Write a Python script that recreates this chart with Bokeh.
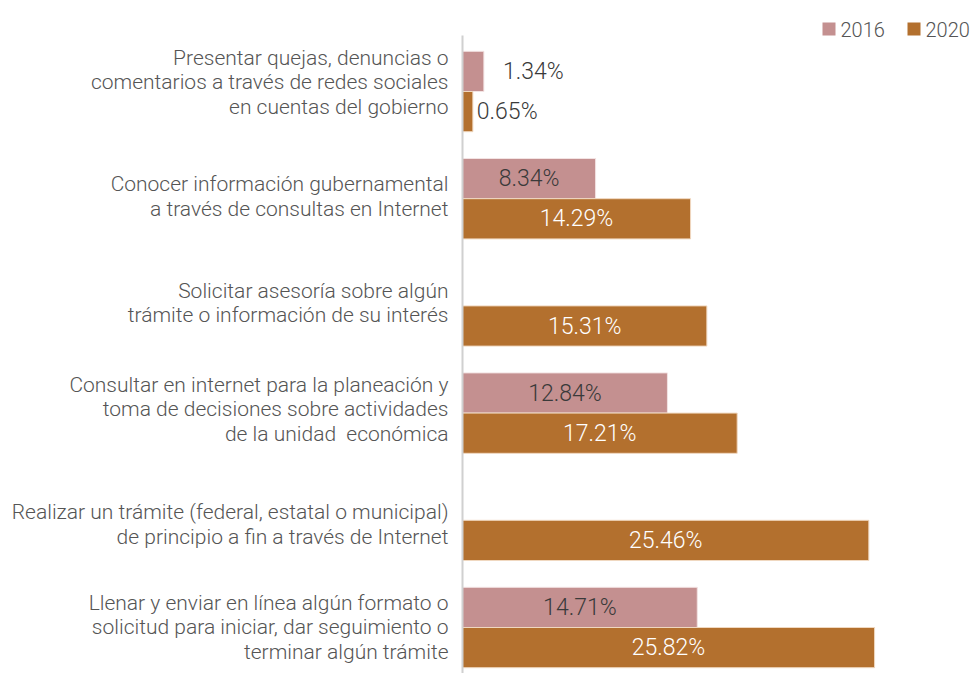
from bokeh.plotting import figure
from bokeh.models import ColumnDataSource, Range1d
from bokeh.core.properties import value
from bokeh.embed import file_html
from bokeh.resources import INLINE

categories = [
    "Presentar quejas, denuncias o\ncomentarios a través de redes sociales\nen cuentas del gobierno",
    "Conocer información gubernamental\na través de consultas en Internet",
    "Solicitar asesoría sobre algún\ntrámite o información de su interés",
    "Consultar en internet para la planeación y\ntoma de decisiones sobre actividades\nde la unidad \u00a0económica",
    "Realizar un trámite (federal, estatal o municipal)\nde principio a fin a través de Internet",
    "Llenar y enviar en línea algún formato o\nsolicitud para iniciar, dar seguimiento o\nterminar algún trámite",
]
values_2016 = [1.34, 8.34, None, 12.84, None, 14.71]
values_2020 = [0.65, 14.29, 15.31, 17.21, 25.46, 25.82]
series_names = ["2016", "2020"]

# layout-only nudges of the category labels (pixels, + = down)
LABEL_NUDGE_PX = [-9, -2, -3, -4, 4, 0]

C16 = "#c49090"
C20 = "#b3702e"
FONT = value("Roboto Light")
GRAY = "#555555"
DARK = "#3a3a3a"

n = len(categories)
pos = [n - 1 - i for i in range(n)]  # top to bottom
BH = 0.375

PX_PER_UNIT_X = 15.96
W, H = 976, 673
x0_px = 462
x_start = -x0_px / PX_PER_UNIT_X
x_end = (W - x0_px) / PX_PER_UNIT_X
PX_PER_UNIT_Y = 107.2
y_start = -(673 - 627) / PX_PER_UNIT_Y
y_end = (n - 1) + 91 / PX_PER_UNIT_Y

def px2x(px):
    return (px - x0_px) / PX_PER_UNIT_X

def px2y(py):
    return y_end - py / PX_PER_UNIT_Y

p = figure(width=W, height=H, output_backend="svg", toolbar_location=None,
           x_range=Range1d(x_start, x_end), y_range=Range1d(y_start, y_end),
           min_border=0, outline_line_color=None)
p.xaxis.visible = False
p.yaxis.visible = False
p.xgrid.visible = False
p.ygrid.visible = False
p.background_fill_color = "white"
p.border_fill_color = "white"

def bar_src(vals, offset, inside_color):
    ys, xs, lx, lt, la, lc = [], [], [], [], [], []
    for v, y in zip(vals, pos):
        if v is None:
            continue
        ys.append(y + offset)
        xs.append(v)
        lt.append(f"{v:.2f}%")
        if v < 3:
            lx.append(v + (1.2 if offset > 0 else 0.25))
            la.append("left")
            lc.append(DARK)
        else:
            lx.append(v / 2)
            la.append("center")
            lc.append(inside_color)
    return ColumnDataSource(dict(y=ys, right=xs, lx=lx, lt=lt, la=la, lc=lc))

s16 = bar_src(values_2016, BH / 2, DARK)
s20 = bar_src(values_2020, -BH / 2, "white")

p.hbar(y="y", right="right", left=0, height=BH, source=s16,
       fill_color=C16, line_color="#f3e3e3", line_width=1)
p.hbar(y="y", right="right", left=0, height=BH, source=s20,
       fill_color=C20, line_color="#f0d8c0", line_width=1)

for s in (s16, s20):
    p.text(x="lx", y="y", text="lt", source=s, text_align="la",
           text_baseline="middle", text_color="lc", text_font=FONT,
           text_font_size="23px")

# axis line
p.segment(x0=[0], y0=[y_start], x1=[0], y1=[px2y(35)],
          line_color="#d0d0d0", line_width=2)

# category labels
cat_y = [y - d / PX_PER_UNIT_Y for y, d in zip(pos, LABEL_NUDGE_PX)]
cat_src = ColumnDataSource(dict(y=cat_y, t=categories))
p.text(x=px2x(448), y="y", text="t", source=cat_src, text_align="right",
       text_baseline="middle", text_color=GRAY, text_font=FONT,
       text_font_size="21px", text_line_height=1.02)

# legend (drawn manually, top right)
leg_sq_px = [828.5, 913.5]
leg_tx_px = [840, 925]
leg_y = px2y(28.5)
p.scatter(x=[px2x(v) for v in leg_sq_px], y=[leg_y, leg_y], marker="square",
          size=13, fill_color=[C16, C20], line_color=None)
p.text(x=[px2x(v) for v in leg_tx_px], y=[leg_y, leg_y], text=series_names,
       text_align="left", text_baseline="middle", text_color=GRAY,
       text_font=FONT, text_font_size="20px")

open("out.html", "w").write(file_html(p, INLINE))
